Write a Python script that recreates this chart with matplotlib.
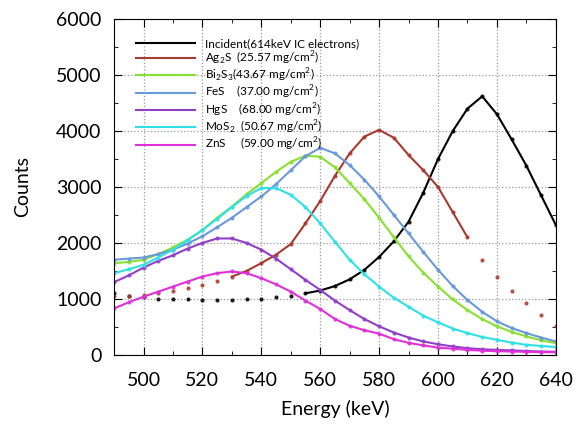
import matplotlib.pyplot as plt
import numpy as np

plt.rcParams['font.family'] = ['Lato', 'DejaVu Sans']
plt.rcParams['mathtext.fontset'] = 'custom'
plt.rcParams['mathtext.rm'] = 'Lato'

# Energy grid (keV)
energy = np.arange(490, 641, 5)

incident = [1100, 1050, 1030, 1000, 1000, 990, 980, 980, 980, 990, 1000,
            1030, 1060, 1100, 1150, 1230, 1350, 1520, 1750, 2030, 2380,
            2900, 3500, 4000, 4400, 4620, 4300, 3850, 3380, 2850, 2320]
ag2s = [1050, 1060, 1070, 1100, 1150, 1200, 1250, 1320, 1400, 1500, 1640,
        1790, 1980, 2350, 2750, 3200, 3600, 3900, 4020, 3880, 3570, 3300,
        3000, 2550, 2100, 1700, 1400, 1150, 930, 720, 510]
bi2s3 = [1640, 1660, 1700, 1800, 1920, 2060, 2230, 2450, 2650, 2870, 3070,
         3270, 3450, 3560, 3540, 3350, 3070, 2780, 2450, 2100, 1760, 1470,
         1220, 990, 800, 640, 510, 410, 330, 260, 210]
fes = [1700, 1720, 1740, 1800, 1880, 1990, 2120, 2280, 2450, 2640, 2830,
       3050, 3300, 3550, 3700, 3600, 3390, 3130, 2830, 2500, 2170, 1840,
       1520, 1230, 980, 770, 600, 480, 390, 310, 240]
hgs = [1300, 1420, 1560, 1680, 1780, 1900, 2000, 2080, 2080, 2000, 1880,
       1720, 1530, 1340, 1160, 970, 800, 640, 510, 400, 310, 240, 190,
       150, 120, 100, 90, 80, 70, 60, 55]
mos2 = [1460, 1530, 1610, 1740, 1880, 2050, 2230, 2430, 2640, 2840, 2980,
        2980, 2860, 2640, 2350, 2020, 1700, 1440, 1220, 1020, 860, 700,
        580, 470, 390, 320, 270, 220, 180, 160, 140]
zns = [830, 940, 1040, 1130, 1220, 1310, 1400, 1460, 1490, 1460, 1370,
       1260, 1130, 970, 820, 640, 520, 440, 380, 280, 215, 170, 130, 110,
       90, 75, 65, 60, 55, 50, 50]

labels = ['Incident(614keV IC electrons)',
          'Ag$_2$S  (25.57 mg/cm$^2$)',
          'Bi$_2$S$_3$(43.67 mg/cm$^2$)',
          'FeS    (37.00 mg/cm$^2$)',
          'HgS    (68.00 mg/cm$^2$)',
          'MoS$_2$  (50.67 mg/cm$^2$)',
          'ZnS     (59.00 mg/cm$^2$)']
series = [incident, ag2s, bi2s3, fes, hgs, mos2, zns]
colors = ['#000000', '#a83a30', '#88e030', '#6a98d8', '#9040c8', '#30e0e8', '#e030d8']
# fitted range of each line
fit_range = [(555, 640), (530, 610), (490, 640), (490, 640),
             (490, 640), (490, 640), (490, 640)]

fig = plt.figure(figsize=(5.76, 4.24), dpi=100)
ax = fig.add_axes([0.198, 0.163, 0.767, 0.792])

for y, c, lab, (lo, hi) in zip(series, colors, labels, fit_range):
    y = np.asarray(y)
    ax.plot(energy, y, 'o', ms=2, color=c, alpha=0.8)
    m = (energy >= lo) & (energy <= hi)
    ax.plot(energy[m], y[m], '-', lw=1.5, color=c, label=lab)

ax.set_xlim(490, 640)
ax.set_ylim(0, 6000)
ax.set_xticks(np.arange(500, 641, 20))
ax.set_xticks(np.arange(490, 641, 10), minor=True)
ax.set_yticks(np.arange(0, 6001, 1000))
ax.set_yticks(np.arange(0, 6001, 500), minor=True)
ax.tick_params(which='both', direction='in', top=True, right=True, labelsize=14)
ax.tick_params(which='major', length=6)
ax.tick_params(which='minor', length=3)
ax.tick_params(axis='x', which='major', pad=12)
ax.tick_params(axis='y', which='major', pad=9)
ax.grid(which='major', ls=':', color='#999999', lw=0.9)

ax.set_xlabel('Energy (keV)', fontsize=14, labelpad=8)
ax.set_ylabel('Counts', fontsize=14, labelpad=18)

ax.legend(loc='upper left', bbox_to_anchor=(0.025, 0.975), frameon=False,
          fontsize=8.5, handlelength=5.0, handletextpad=0.9, labelspacing=0.0)

fig.savefig('out.png', dpi=100)
